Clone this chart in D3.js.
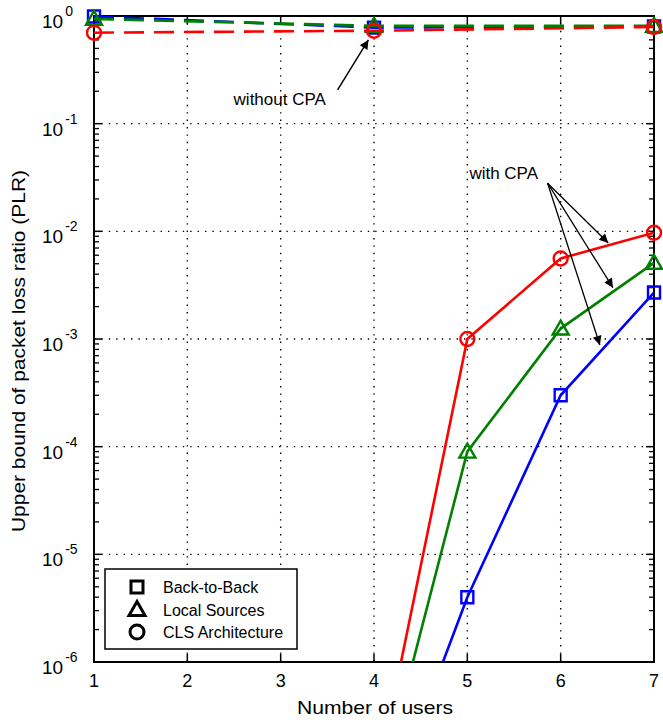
<!DOCTYPE html>
<html>
<head>
<meta charset="utf-8">
<script src="https://cdn.jsdelivr.net/npm/d3@7"></script>
<style>
  body { margin: 0; background: #fff; }
  text { font-family: "Liberation Sans", Arial, sans-serif; fill: #000; }
</style>
</head>
<body>
<div id="chart"></div>
<script>
// x axis: number of users
const userTicks = [1, 2, 3, 4, 5, 6, 7];
const yExponents = [0, -1, -2, -3, -4, -5, -6];

// with CPA (solid lines)
const cpaUsers = [4, 5, 6, 7];
const b2bCPA = [2e-8, 4e-6, 3e-4, 2.7e-3];
const localCPA = [4e-8, 9e-5, 1.25e-3, 5.1e-3];
const clsCPA = [6e-8, 1e-3, 5.6e-3, 9.7e-3];

// without CPA (dashed lines)
const noCpaUsers = [1, 4, 7];
const b2bNoCPA = [0.99, 0.78, 0.80];
const localNoCPA = [0.94, 0.81, 0.81];
const clsNoCPA = [0.70, 0.73, 0.79];

const legendNames = ["Back-to-Back", "Local Sources", "CLS Architecture"];

// annotations [x, y] in data units
const withoutText = [2.99, 0.17];
const withoutArrow = [[3.61, 0.206], [3.94, 0.6]];
const withText = [5.39, 0.035];
const withTail = [5.86, 0.028];
const withHeads = [[6.51, 7.8e-3], [6.56, 3.0e-3], [6.42, 8.8e-4]];

const W = 663, H = 720;
const margin = {top: 16, right: 9, bottom: 58, left: 94};
const pLeft = margin.left, pRight = W - margin.right;
const pTop = margin.top, pBottom = H - margin.bottom;

const x = d3.scaleLinear().domain([1, 7]).range([pLeft, pRight]);
const y = d3.scaleLog().domain([1e-6, 1]).range([pBottom, pTop]);

const svg = d3.select("#chart").append("svg")
    .attr("width", W)
    .attr("height", H);

const defs = svg.append("defs");
defs.append("clipPath").attr("id", "plotclip")
  .append("rect")
    .attr("x", pLeft).attr("y", pTop)
    .attr("width", pRight - pLeft).attr("height", pBottom - pTop);

const arrow = defs.append("marker")
    .attr("id", "arrowhead")
    .attr("viewBox", "0 0 10 10")
    .attr("refX", 10).attr("refY", 5)
    .attr("markerWidth", 13).attr("markerHeight", 9)
    .attr("markerUnits", "userSpaceOnUse")
    .attr("orient", "auto");
arrow.append("path").attr("d", "M0,0 L10,5 L0,10 Z").attr("fill", "#000");

// grid (dotted)
const grid = svg.append("g");
grid.selectAll("line.gx")
  .data(userTicks.slice(1, -1))
  .join("line")
    .attr("x1", d => x(d)).attr("x2", d => x(d))
    .attr("y1", pTop).attr("y2", pBottom)
    .attr("stroke", "#000").attr("stroke-width", 1.4)
    .attr("stroke-dasharray", "1.4,6");
grid.selectAll("line.gy")
  .data(yExponents.slice(1, -1))
  .join("line")
    .attr("x1", pLeft).attr("x2", pRight)
    .attr("y1", d => y(Math.pow(10, d))).attr("y2", d => y(Math.pow(10, d)))
    .attr("stroke", "#000").attr("stroke-width", 1.4)
    .attr("stroke-dasharray", "1.4,6");

// axes with inward ticks, both sides
const minorVals = [];
yExponents.slice(1).forEach(e => {
  for (let k = 2; k <= 9; k++) minorVals.push(k * Math.pow(10, e));
});

function yAxisAt(xpos, dir) {
  const g = svg.append("g");
  g.selectAll("line.maj")
    .data(yExponents)
    .join("line")
      .attr("x1", xpos).attr("x2", xpos + dir * 8)
      .attr("y1", d => y(Math.pow(10, d))).attr("y2", d => y(Math.pow(10, d)))
      .attr("stroke", "#000").attr("stroke-width", 1.5);
  g.selectAll("line.min")
    .data(minorVals)
    .join("line")
      .attr("x1", xpos).attr("x2", xpos + dir * 5)
      .attr("y1", d => y(d)).attr("y2", d => y(d))
      .attr("stroke", "#000").attr("stroke-width", 1.3);
}
yAxisAt(pLeft, 1);
yAxisAt(pRight, -1);

function xAxisAt(ypos, dir) {
  svg.append("g").selectAll("line")
    .data(userTicks)
    .join("line")
      .attr("x1", d => x(d)).attr("x2", d => x(d))
      .attr("y1", ypos).attr("y2", ypos + dir * 8)
      .attr("stroke", "#000").attr("stroke-width", 1.5);
}
xAxisAt(pBottom, -1);
xAxisAt(pTop, 1);

svg.append("rect")
    .attr("x", pLeft).attr("y", pTop)
    .attr("width", pRight - pLeft).attr("height", pBottom - pTop)
    .attr("fill", "none").attr("stroke", "#000").attr("stroke-width", 2);

// tick labels
svg.append("g").selectAll("text")
  .data(userTicks)
  .join("text")
    .attr("x", d => x(d)).attr("y", pBottom + 25)
    .attr("text-anchor", "middle")
    .attr("font-size", 18)
    .text(d => d);

const yl = svg.append("g").selectAll("text")
  .data(yExponents)
  .join("text")
    .attr("x", 42)
    .attr("y", d => y(Math.pow(10, d)) + 12)
    .attr("font-size", 19);
yl.append("tspan").text("10");
yl.append("tspan")
    .attr("font-size", 14)
    .attr("dx", 2)
    .attr("dy", -12)
    .text(d => d === 0 ? "0" : "-" + Math.abs(d));

// axis titles (original text is a bit wider than Arial)
svg.append("text")
    .attr("x", x(4) + 1).attr("y", H - 6)
    .attr("text-anchor", "middle")
    .attr("font-size", 19)
    .attr("textLength", 156)
    .attr("lengthAdjust", "spacingAndGlyphs")
    .text("Number of users");
svg.append("text")
    .attr("transform", `translate(25,351) rotate(-90)`)
    .attr("text-anchor", "middle")
    .attr("font-size", 19)
    .attr("textLength", 362)
    .attr("lengthAdjust", "spacingAndGlyphs")
    .text("Upper bound of packet loss ratio (PLR)");

// series
const series = [
  {xs: cpaUsers, ys: b2bCPA, color: "#0000ff", shape: "square", dash: null},
  {xs: cpaUsers, ys: localCPA, color: "#008000", shape: "triangle", dash: null},
  {xs: cpaUsers, ys: clsCPA, color: "#ff0000", shape: "circle", dash: null},
  {xs: noCpaUsers, ys: b2bNoCPA, color: "#0000ff", shape: "square", dash: "20,10"},
  {xs: noCpaUsers, ys: localNoCPA, color: "#008000", shape: "triangle", dash: "20,10"},
  {xs: noCpaUsers, ys: clsNoCPA, color: "#ff0000", shape: "circle", dash: "20,10"}
];

const line = d3.line().x(d => x(d[0])).y(d => y(d[1]));

function markerPath(shape, cx, cy) {
  if (shape === "square") {
    return `M${cx - 6},${cy - 6}h12v12h-12Z`;
  } else if (shape === "triangle") {
    return `M${cx},${cy - 8}L${cx + 8},${cy + 6}L${cx - 8},${cy + 6}Z`;
  }
  return `M${cx - 7},${cy}a7,7 0 1,0 14,0a7,7 0 1,0 -14,0Z`;
}

series.forEach(s => {
  const pts = s.xs.map((d, i) => [d, s.ys[i]]);
  svg.append("path")
      .datum(pts)
      .attr("clip-path", "url(#plotclip)")
      .attr("fill", "none")
      .attr("stroke", s.color)
      .attr("stroke-width", 2.6)
      .attr("stroke-dasharray", s.dash)
      .attr("d", line);
  svg.append("g").selectAll("path")
    .data(pts.filter(p => p[1] >= 1e-6))
    .join("path")
      .attr("d", p => markerPath(s.shape, x(p[0]), y(p[1])))
      .attr("fill", "none")
      .attr("stroke", s.color)
      .attr("stroke-width", 2.4);
});

// annotations
svg.append("text")
    .attr("x", x(withoutText[0])).attr("y", y(withoutText[1]) + 6)
    .attr("text-anchor", "middle").attr("font-size", 17)
    .text("without CPA");
svg.append("line")
    .attr("x1", x(withoutArrow[0][0])).attr("y1", y(withoutArrow[0][1]))
    .attr("x2", x(withoutArrow[1][0])).attr("y2", y(withoutArrow[1][1]))
    .attr("stroke", "#000").attr("stroke-width", 1.5)
    .attr("marker-end", "url(#arrowhead)");

svg.append("text")
    .attr("x", x(withText[0])).attr("y", y(withText[1]) + 6)
    .attr("text-anchor", "middle").attr("font-size", 17)
    .text("with CPA");
svg.append("g").selectAll("line")
  .data(withHeads)
  .join("line")
    .attr("x1", x(withTail[0])).attr("y1", y(withTail[1]))
    .attr("x2", d => x(d[0])).attr("y2", d => y(d[1]))
    .attr("stroke", "#000").attr("stroke-width", 1.3)
    .attr("marker-end", "url(#arrowhead)");

// legend
const lg = svg.append("g").attr("transform", "translate(105,569)");
lg.append("rect")
    .attr("width", 192).attr("height", 80)
    .attr("fill", "#fff").attr("stroke", "#000").attr("stroke-width", 1.5);
const shapes = ["square", "triangle", "circle"];
legendNames.forEach((name, i) => {
  const cy = 18 + i * 22.5;
  lg.append("path")
      .attr("d", markerPath(shapes[i], 32, cy))
      .attr("fill", "none").attr("stroke", "#000").attr("stroke-width", 3);
  lg.append("text")
      .attr("x", 58).attr("y", cy + 6)
      .attr("font-size", 16)
      .text(name);
});
</script>
</body>
</html>
